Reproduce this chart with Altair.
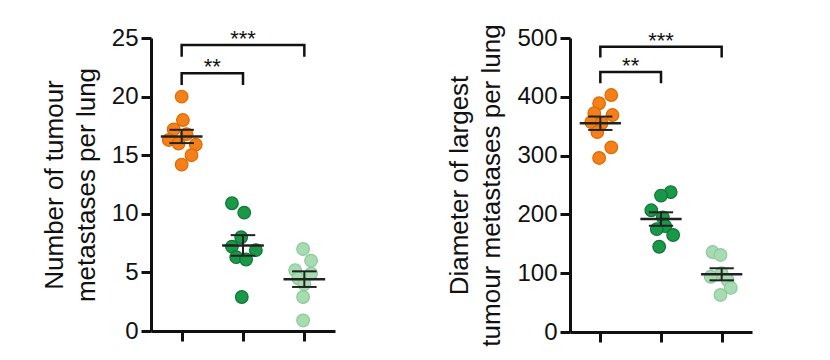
import altair as alt
import pandas as pd

FONT = "Liberation Sans"

groups = [1, 2, 3]
fill_colors = ["#F3801A", "#1A9848", "#A8DBB2"]
edge_colors = ["#DD6A00", "#0D7636", "#8ACB99"]

# Left panel: number of tumour metastases per lung
left_values = [
    [20, 18, 17.2, 16.8, 16.3, 16, 15.9, 15, 14.2],
    [10.9, 10.1, 8, 7.2, 6.9, 6.3, 6.1, 2.9],
    [7, 6, 5.2, 4.9, 4.5, 4, 2.9, 0.9],
]
left_jitter = [
    [0, 0.02, -0.13, 0.08, -0.21, -0.05, 0.23, 0.16, 0],
    [-0.18, 0.02, -0.03, -0.18, 0.21, -0.11, 0.05, -0.02],
    [-0.02, 0.11, -0.15, 0.11, -0.1, 0, -0.02, -0.02],
]
left_ticks = [0, 5, 10, 15, 20, 25]
left_title = ["Number of tumour", "metastases per lung"]
left_bracket_top = [24.4, 22.0]
left_bracket_drop = [23.4, 21.0]

# Right panel: diameter of largest tumour metastases per lung
right_values = [
    [403, 389, 372, 369, 357, 355, 340, 314, 296],
    [238, 232, 207, 195, 180, 175, 165, 145],
    [136, 131, 100, 94, 88, 75, 63],
]
right_jitter = [
    [0.18, -0.02, -0.1, 0.2, -0.15, 0.02, -0.05, 0.18, -0.02],
    [0.16, 0, -0.16, 0.03, 0.07, -0.07, 0.2, -0.03],
    [-0.15, -0.02, 0, -0.18, 0.1, 0.15, -0.02],
]
right_ticks = [0, 100, 200, 300, 400, 500]
right_title = ["Diameter of largest", "tumour metastases per lung"]
right_bracket_top = [485, 442]
right_bracket_drop = [467, 423]

bracket_from = [1, 1]
bracket_to = [3, 2]
bracket_labels = ["***", "**"]


def panel(values, jitter, ticks, title, btop, bdrop, width, height):
    rows = []
    for g, vals, jit in zip(groups, values, jitter):
        for v, j in zip(vals, jit):
            rows.append({"group": g, "x": g + j, "value": v})
    pts = pd.DataFrame(rows)

    brows, trows = [], []
    for i, (f, t, top, drop, lab) in enumerate(zip(bracket_from, bracket_to, btop, bdrop, bracket_labels)):
        brows += [
            {"b": i, "o": 0, "x": f, "y": drop},
            {"b": i, "o": 1, "x": f, "y": top},
            {"b": i, "o": 2, "x": t, "y": top},
            {"b": i, "o": 3, "x": t, "y": drop},
        ]
        trows.append({"x": (f + t) / 2, "y": top, "label": lab})
    bdf = pd.DataFrame(brows)
    tdf = pd.DataFrame(trows)

    xs = alt.Scale(domain=[0.5, 3.5], nice=False, zero=False)
    ys = alt.Scale(domain=[0, ticks[-1]], nice=False)
    xaxis = alt.Axis(values=groups, labels=False, title=None, grid=False, tickSize=10)
    yaxis = alt.Axis(values=ticks, title=title, grid=False, tickSize=10,
                     labelPadding=3, titlePadding=12)

    def X(f):
        return alt.X(f, scale=xs, axis=xaxis)

    def Y(f):
        return alt.Y(f, scale=ys, axis=yaxis)

    points = alt.Chart(pts).mark_circle(size=160, opacity=1, strokeWidth=1.2).encode(
        x=X("x:Q"),
        y=Y("value:Q"),
        fill=alt.Fill("group:N", scale=alt.Scale(domain=groups, range=fill_colors), legend=None),
        stroke=alt.Stroke("group:N", scale=alt.Scale(domain=groups, range=edge_colors), legend=None),
    )

    stats = alt.Chart(pts).transform_aggregate(
        m="mean(value)", se="stderr(value)", groupby=["group"]
    ).transform_calculate(
        lo="datum.m - datum.se",
        hi="datum.m + datum.se",
        a="datum.group - 0.34",
        b="datum.group + 0.34",
        ca="datum.group - 0.2",
        cb="datum.group + 0.2",
    )
    mean_rule = stats.mark_rule(color="#222", strokeWidth=2.5).encode(x=X("a:Q"), x2="b:Q", y=Y("m:Q"))
    cap_lo = stats.mark_rule(color="#222", strokeWidth=2).encode(x=X("ca:Q"), x2="cb:Q", y=Y("lo:Q"))
    cap_hi = stats.mark_rule(color="#222", strokeWidth=2).encode(x=X("ca:Q"), x2="cb:Q", y=Y("hi:Q"))
    vert = stats.mark_rule(color="#222", strokeWidth=2).encode(x=X("group:Q"), y=Y("lo:Q"), y2="hi:Q")

    brackets = alt.Chart(bdf).mark_line(color="#111", strokeWidth=2.5).encode(
        x=X("x:Q"), y=Y("y:Q"), detail="b:N", order="o:Q"
    )
    stars = alt.Chart(tdf).mark_text(
        font=FONT, fontSize=22, baseline="alphabetic", dy=1, color="#111"
    ).encode(x=X("x:Q"), y=Y("y:Q"), text="label:N")

    return alt.layer(points, mean_rule, cap_lo, cap_hi, vert, brackets, stars).properties(
        width=width, height=height
    )


left = panel(left_values, left_jitter, left_ticks, left_title,
             left_bracket_top, left_bracket_drop, 184, 293)
right = panel(right_values, right_jitter, right_ticks, right_title,
              right_bracket_top, right_bracket_drop, 182, 294)

chart = alt.hconcat(left, right, spacing=111).properties(
    padding={"left": 41, "top": 23, "right": 5, "bottom": 5},
    background="white",
).configure_axis(
    domainColor="#111", domainWidth=3, tickColor="#111", tickWidth=3,
    labelFont=FONT, labelFontSize=24, labelColor="#111",
    titleFont=FONT, titleFontSize=26, titleFontWeight="normal", titleColor="#111",
    titleLineHeight=32,
).configure_view(stroke=None)

chart.save("out.html", embed_options={"renderer": "svg", "actions": False})
